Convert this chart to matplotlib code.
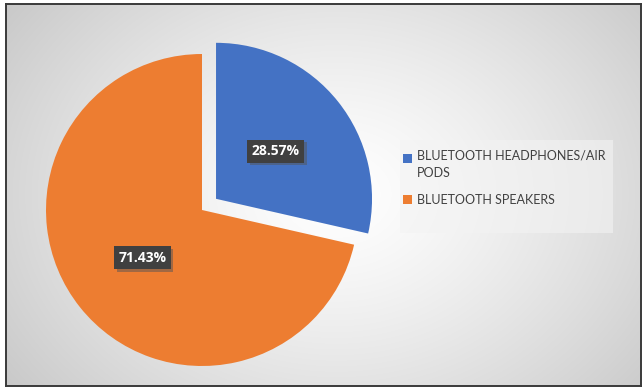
import numpy as np
import matplotlib
matplotlib.use("Agg")
import matplotlib.pyplot as plt
import matplotlib.patheffects as pe
from matplotlib.patches import Rectangle
from matplotlib.legend_handler import HandlerPatch

# Share of each product in sales
products = ["BLUETOOTH HEADPHONES/AIR\nPODS", "BLUETOOTH SPEAKERS"]
shares = [28.57, 71.43]
colors = ["#4472C4", "#ED7D31"]

W, H = 644, 390
fig = plt.figure(figsize=(W / 100, H / 100), dpi=100)
fig.patch.set_facecolor("white")

# chart area with soft radial gradient
bg = fig.add_axes([6 / W, 4 / H, 635 / W, 382 / H])
yy, xx = np.mgrid[0:382, 0:635]
cx, cy = 330, 190
d = np.sqrt(((xx - cx) / 420.0) ** 2 + ((yy - cy) / 330.0) ** 2)
d = np.clip(d, 0, 1)
shade = 1.0 - 0.22 * d ** 1.3
bg.imshow(np.dstack([shade] * 3), aspect="auto", extent=[0, 1, 0, 1])
bg.set_xticks([])
bg.set_yticks([])
for s in bg.spines.values():
    s.set_color("#3a3a3a")
    s.set_linewidth(1.4)

# pie, radius 1 -> 156 px
r = 156
cxp, cyp = 202, H - 210
half = 1.2 * r
ax = fig.add_axes([(cxp - half) / W, (cyp - half) / H, 2 * half / W, 2 * half / H])
wedges, texts, autotexts = ax.pie(
    shares, colors=colors, startangle=90, counterclock=False,
    explode=[0.115, 0], autopct="%.2f%%", pctdistance=0.49,
    wedgeprops=dict(linewidth=0),
    textprops=dict(color="white", fontsize=10, fontweight="bold", family="Open Sans"),
)
for t in autotexts:
    t.set_bbox(dict(boxstyle="square,pad=0.32", facecolor="#404040", edgecolor="none"))
    t.get_bbox_patch().set_path_effects(
        [pe.SimplePatchShadow(offset=(2, -2), shadow_rgbFace="#555555", alpha=0.5), pe.Normal()])
ax.set_xlim(-1.2, 1.2)
ax.set_ylim(-1.2, 1.2)
ax.set_aspect("equal")
ax.axis("off")


def square_on_first_line(legend, orig_handle, xdescent, ydescent, width, height, fontsize):
    # keep the marker next to the first line of a wrapped label
    return Rectangle((-xdescent, -ydescent + 4.5), width, height)


# legend panel
fig.patches.append(Rectangle((400 / W, 1 - 233 / H), 213 / W, 93 / H,
                             transform=fig.transFigure, facecolor="#f3f3f3",
                             edgecolor="none", alpha=0.6, zorder=1))
leg = fig.legend(
    wedges, products, loc="upper left",
    bbox_to_anchor=(403 / W, 1 - 150 / H),
    frameon=False, borderpad=0, borderaxespad=0,
    prop=dict(family="Lato", size=9), labelcolor="#404040",
    handlelength=0.75, handleheight=0.75, handletextpad=0.35,
    labelspacing=1.2,
    handler_map={wedges[0]: HandlerPatch(patch_func=square_on_first_line)},
)
for t in leg.get_texts():
    t.set_linespacing(1.5)

fig.savefig("out.png", dpi=100)
